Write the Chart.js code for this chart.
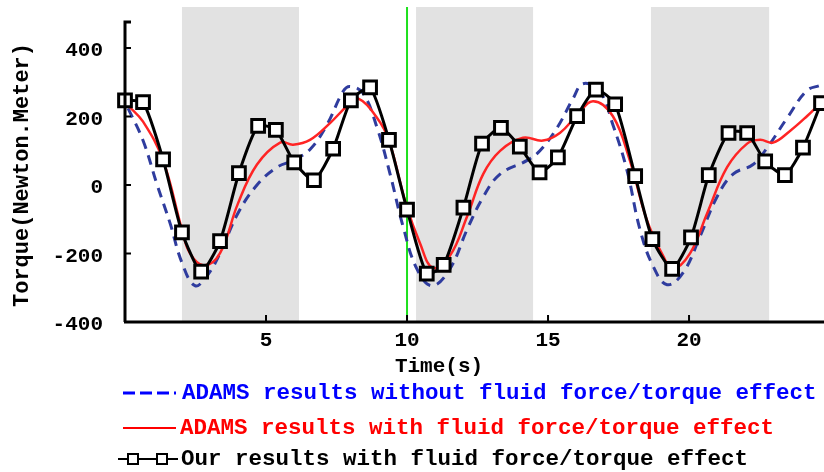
<!DOCTYPE html>
<html>
<head>
<meta charset="utf-8">
<script src="https://cdn.jsdelivr.net/npm/chart.js@4.4.1/dist/chart.umd.min.js"></script>
<style>
  html, body { margin: 0; padding: 0; background: #fff; }
  canvas { display: block; }
</style>
</head>
<body>
<canvas id="torqueChart" width="824" height="472"></canvas>
<script>
// Our results (squares)
const oursX = [0, 0.64, 1.35, 2.02, 2.7, 3.37, 4.04, 4.72, 5.35, 6.0, 6.7, 7.38, 8.01, 8.69, 9.36, 10.0, 10.7, 11.3, 12.0,
  12.66, 13.33, 14.0, 14.7, 15.35, 16.03, 16.7, 17.38, 18.09, 18.7, 19.4, 20.07, 20.7, 21.4, 22.06, 22.7, 23.4, 24.04, 24.68];
const oursY = [247, 242, 75, -138, -253, -164, 35, 173, 161, 66, 14, 106, 247, 285, 132, -72, -259, -233, -66,
  121, 167, 112, 37, 81, 201, 279, 236, 26, -158, -245, -153, 29, 152, 152, 69, 29, 109, 239];

// ADAMS with fluid force (red)
const withX = [0.1, 0.64, 1.35, 2.02, 2.3, 2.8, 3.37, 4.0, 4.68, 5.5, 5.96, 6.56, 7.27, 7.9, 8.26, 8.94, 9.36, 9.96,
  10.46, 10.92, 11.52, 12.13, 12.7, 13.3, 14.11, 14.82, 15.43, 16.03, 16.6, 17.3, 17.9, 18.5, 19.08, 19.43, 20.04,
  20.64, 21.35, 22.06, 22.52, 22.98, 23.58, 24.18, 24.65];
const withY = [233, 185, 72, -130, -199, -235, -199, -55, 60, 124, 118, 132, 181, 233, 253, 196, 130, -55,
  -170, -242, -207, -92, 32, 100, 138, 130, 153, 204, 245, 201, 72, -101, -207, -245, -199,
  -83, 52, 121, 132, 124, 158, 201, 239];

// ADAMS without fluid force (blue dashed)
const withoutX = [0.11, 0.64, 1.13, 1.6, 2.02, 2.48, 2.91, 3.37, 4.0, 4.68, 5.39, 5.96, 6.56, 7.16, 7.73, 7.98, 8.44,
  8.94, 9.4, 9.86, 10.35, 10.89, 11.52, 12.13, 12.7, 13.3, 14.26, 14.72, 15.32, 15.89, 16.24, 16.84, 17.3, 17.8,
  18.26, 18.72, 19.22, 19.79, 20.39, 20.99, 21.56, 22.27, 22.77, 23.48, 24.18, 24.65];
const withoutY = [224, 130, 3, -112, -227, -294, -265, -199, -83, 0, 52, 72, 104, 176, 273, 288, 268,
  167, 32, -121, -245, -294, -245, -130, -35, 32, 72, 101, 167, 253, 296, 273, 176, 43,
  -130, -236, -291, -256, -150, -35, 32, 60, 109, 196, 276, 291];

const xTicks = [5, 10, 15, 20];
const yTicks = [-400, -200, 0, 200, 400];
const bandStart = [2.02, 10.32, 18.65];
const bandEnd = [6.17, 14.47, 22.84];
const markerX = 10;

const legendLabels = [
  'ADAMS results without fluid force/torque effect',
  'ADAMS results with fluid force/torque effect',
  'Our results with fluid force/torque effect'
];

const toPoints = (xs, ys) => xs.map((x, i) => ({ x: x, y: ys[i] }));

const FONT = '"Liberation Mono", "DejaVu Sans Mono", monospace';

// bands, green line, axes, tick labels, titles and legend
const decor = {
  id: 'decor',
  beforeDatasetsDraw(chart) {
    const { ctx, chartArea, scales } = chart;
    ctx.save();
    ctx.fillStyle = '#e2e2e2';
    bandStart.forEach((s, i) => {
      const x1 = scales.x.getPixelForValue(s);
      const x2 = scales.x.getPixelForValue(bandEnd[i]);
      ctx.fillRect(x1, chartArea.top, x2 - x1, chartArea.bottom - chartArea.top);
    });
    const gx = scales.x.getPixelForValue(markerX);
    ctx.strokeStyle = '#1ee01e';
    ctx.lineWidth = 2;
    ctx.beginPath();
    ctx.moveTo(gx, chartArea.top);
    ctx.lineTo(gx, chartArea.bottom);
    ctx.stroke();
    ctx.restore();
  },
  afterDatasetsDraw(chart) {
    const { ctx, chartArea, scales } = chart;
    const left = chartArea.left, bottom = chartArea.bottom;
    const top = scales.y.getPixelForValue(476);
    ctx.save();
    ctx.strokeStyle = '#000';
    ctx.lineWidth = 3;
    ctx.beginPath();
    ctx.moveTo(left - 1, bottom);
    ctx.lineTo(chartArea.right + 2, bottom);
    ctx.moveTo(left, bottom);
    ctx.lineTo(left, top);
    ctx.lineTo(left + 6, top);
    ctx.stroke();
    ctx.lineWidth = 2;
    ctx.beginPath();
    yTicks.forEach(v => {
      const py = scales.y.getPixelForValue(v);
      ctx.moveTo(left, py);
      ctx.lineTo(left + 6, py);
    });
    xTicks.forEach(v => {
      const px = scales.x.getPixelForValue(v);
      ctx.moveTo(px, bottom);
      ctx.lineTo(px, bottom - 7);
    });
    ctx.stroke();

    // tick labels
    ctx.fillStyle = '#000';
    ctx.font = 'bold 21px ' + FONT;
    ctx.textBaseline = 'middle';
    ctx.textAlign = 'right';
    yTicks.forEach(v => {
      ctx.fillText(String(v), left - 22, scales.y.getPixelForValue(v) + 3);
    });
    ctx.textAlign = 'center';
    xTicks.forEach(v => {
      ctx.fillText(String(v), scales.x.getPixelForValue(v), bottom + 19);
    });
    ctx.restore();
  },
  afterDraw(chart) {
    const { ctx } = chart;
    ctx.save();
    ctx.fillStyle = '#000';
    ctx.font = 'bold 21px ' + FONT;
    ctx.textAlign = 'center';
    ctx.textBaseline = 'middle';
    ctx.fillText('Time(s)', 439, 367);

    ctx.save();
    ctx.translate(22, 175);
    ctx.rotate(-Math.PI / 2);
    ctx.font = 'bold 22px ' + FONT;
    ctx.fillText('Torque(Newton.Meter)', 0, 0);
    ctx.restore();

    // legend
    ctx.font = 'bold 22.5px ' + FONT;
    ctx.textAlign = 'left';

    ctx.strokeStyle = '#0000ff';
    ctx.lineWidth = 3;
    ctx.setLineDash([12, 5]);
    ctx.beginPath();
    ctx.moveTo(123, 393);
    ctx.lineTo(176, 393);
    ctx.stroke();
    ctx.setLineDash([]);
    ctx.fillStyle = '#0000ff';
    ctx.fillText(legendLabels[0], 182, 393);

    ctx.strokeStyle = '#ff0000';
    ctx.lineWidth = 2;
    ctx.beginPath();
    ctx.moveTo(123, 428);
    ctx.lineTo(176, 428);
    ctx.stroke();
    ctx.fillStyle = '#ff0000';
    ctx.fillText(legendLabels[1], 180, 428);

    ctx.strokeStyle = '#000';
    ctx.lineWidth = 2;
    ctx.beginPath();
    ctx.moveTo(118, 459);
    ctx.lineTo(178, 459);
    ctx.stroke();
    ctx.fillStyle = '#fff';
    [133, 162].forEach(cx => {
      ctx.fillRect(cx - 5, 454, 10, 10);
      ctx.strokeRect(cx - 5, 454, 10, 10);
    });
    ctx.fillStyle = '#000';
    ctx.fillText(legendLabels[2], 181, 459);
    ctx.restore();
  }
};

new Chart(document.getElementById('torqueChart'), {
  type: 'line',
  data: {
    datasets: [
      {
        label: legendLabels[0],
        data: toPoints(withoutX, withoutY),
        borderColor: '#2f3c9e',
        borderWidth: 3,
        borderDash: [10, 7],
        pointRadius: 0,
        tension: 0.4,
        order: 3
      },
      {
        label: legendLabels[1],
        data: toPoints(withX, withY),
        borderColor: '#ff2424',
        borderWidth: 2.5,
        pointRadius: 0,
        tension: 0.4,
        order: 2
      },
      {
        label: legendLabels[2],
        data: toPoints(oursX, oursY),
        borderColor: '#000',
        borderWidth: 3,
        pointStyle: 'rect',
        pointRadius: 9,
        pointBackgroundColor: '#fff',
        pointBorderColor: '#000',
        pointBorderWidth: 3,
        tension: 0.2,
        clip: false,
        order: 1
      }
    ]
  },
  options: {
    responsive: false,
    animation: false,
    layout: { autoPadding: false, padding: { left: 125, right: 1, top: 7, bottom: 150 } },
    plugins: {
      legend: { display: false },
      tooltip: { enabled: false }
    },
    scales: {
      x: { type: 'linear', min: 0, max: 24.75, display: false },
      y: { type: 'linear', min: -400, max: 520, display: false }
    }
  },
  plugins: [decor]
});
</script>
</body>
</html>
